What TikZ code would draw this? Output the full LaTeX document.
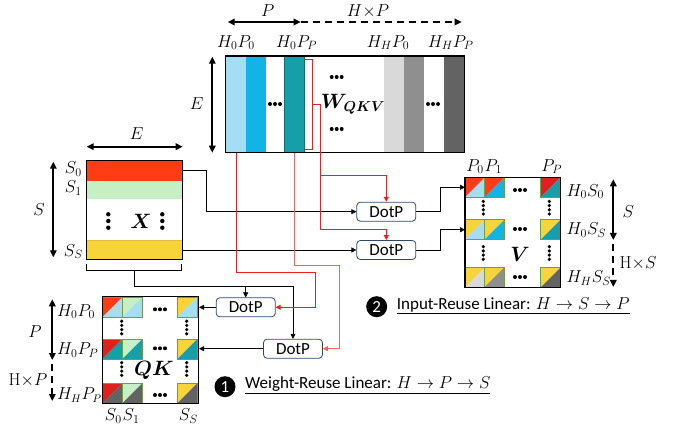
\documentclass[tikz,border=0pt]{standalone}
\usepackage[no-math]{fontspec}
\setmainfont{Carlito}
\usepackage{bm}
\usetikzlibrary{arrows.meta}
\definecolor{lblue}{HTML}{A5DDF2}
\definecolor{cblue}{HTML}{12B4E6}
\definecolor{cteal}{HTML}{169FA8}
\definecolor{lgray}{HTML}{D9D9D9}
\definecolor{mgray}{HTML}{8F8F8F}
\definecolor{dgray}{HTML}{636363}
\definecolor{redA}{HTML}{FF3C14}
\definecolor{redB}{HTML}{E0201C}
\definecolor{lgreen}{HTML}{C6EFC5}
\definecolor{cyellow}{HTML}{F7D53A}
\definecolor{dpborder}{HTML}{2E4A6B}
\definecolor{cellb}{HTML}{6E9E4A}
\definecolor{lred}{HTML}{E82020}
\definecolor{pred}{HTML}{F06464}
\newcommand\mycell[4]{%
  \fill[#3] (#1,#2) -- ++(20,0) -- ++(-20,20) -- cycle;
  \fill[#4] (#1+20,#2) -- ++(0,20) -- ++(-20,0) -- cycle;
  \draw[cellline] (#1,#2) rectangle ++(20,20);}
\begin{document}
\begin{tikzpicture}[x=1pt,y=-1pt,
  font=\fontsize{17}{20}\selectfont,
  lab/.style={inner sep=0pt},
  dotp/.style={draw=dpborder, rounded corners=3.5pt, fill=white, minimum width=59pt, minimum height=19pt, inner sep=0pt, line width=0.8pt},
  conn/.style={line width=0.7pt, -{Triangle[length=5pt,width=5pt]}},
  rconn/.style={conn, draw=lred},
  dimarr/.style={line width=1.8pt, {Triangle[length=7pt,width=6.5pt]}-{Triangle[length=7pt,width=6.5pt]}},
  dasharr/.style={line width=1.8pt, dash pattern=on 7pt off 5pt, -{Triangle[length=7pt,width=6.5pt]}},
  cellline/.style={draw=cellb, line width=0.7pt},
  boxline/.style={draw=black, line width=1.3pt},
  hd/.pic={\fill (-5,0) circle (2pt) (0,0) circle (2pt) (5,0) circle (2pt);},
  vdf/.pic={\fill (0,-6.3) circle (1.8pt) (0,-2.1) circle (1.8pt) (0,2.1) circle (1.8pt) (0,6.3) circle (1.8pt);},
  vdt/.pic={\fill (0,-6.7) circle (2.2pt) (0,0) circle (2.2pt) (0,6.7) circle (2.2pt);}
]
\useasboundingbox (0,0) rectangle (673,433);

% ---------------- W_QKV ----------------
\fill[lblue] (225.7,56) rectangle (245.7,152.7);
\fill[cblue] (245.7,56) rectangle (265.7,152.7);
\fill[cteal] (284.3,56) rectangle (304,152.7);
\draw[cteal!70!black, line width=0.8pt] (284.3,56) rectangle (304,152.7);
\fill[lgray] (384.3,56) rectangle (404,152.7);
\fill[mgray] (404,56) rectangle (424,152.7);
\fill[dgray] (444.3,56) rectangle (464.3,152.7);
\node[boxline, minimum width=238.6pt, minimum height=96.7pt, inner sep=0pt] (W) at (345,104.35) {};
\pic at (275,104) {hd};
\pic at (336.7,77) {hd};
\pic at (336.7,129) {hd};
\pic at (433,104) {hd};
\node[lab, font=\fontsize{21}{24}\selectfont] (Wl) at (353,104) {$\bm{W_{QKV}}$};
\draw[lred, line width=1pt] (305,59.3) -- (312.7,59.3) -- (312.7,150) -- (305,150);
\coordinate (brk) at (312.7,104.3);

\node[lab] (wh1) at (236,42.7) {$H_0P_0$};
\node[lab] (wh2) at (296.7,42.7) {$H_0P_P$};
\node[lab] (wh3) at (388,42.7) {$H_HP_0$};
\node[lab] (wh4) at (450.7,42.7) {$H_HP_P$};
\coordinate (pa1) at (227.7,22);
\coordinate (pa2) at (300.7,22);
\coordinate (pa3) at (461.7,22);
\draw[dimarr] (pa1) -- (pa2);
\draw[dasharr] (pa2) -- (pa3);
\node[lab] (tP) at (267.7,11) {$P$};
\node[lab] (tHP) at (368,11) {$H{\times}P$};
\coordinate (ea1) at (212.3,56.7);
\coordinate (ea2) at (212.3,152.7);
\draw[dimarr] (ea1) -- (ea2);
\node[lab] (tE) at (196.7,104) {$E$};

% ---------------- X ----------------
\fill[redA] (86.7,160.7) rectangle (182.7,180.7);
\fill[lgreen] (86.7,180.7) rectangle (182.7,199.3);
\fill[cyellow] (86.7,240.7) rectangle (182.7,259.3);
\draw[cyellow!70!brown, line width=0.7pt] (86.7,240.7) -- (182.7,240.7);
\node[boxline, minimum width=96pt, minimum height=98.6pt, inner sep=0pt] (X) at (134.7,210) {};
\node[lab, font=\fontsize{21}{24}\selectfont] (Xl) at (141,221.7) {$\bm{X}$};
\pic at (108.3,221) {vdt};
\pic at (162.3,221) {vdt};
\coordinate (xe1) at (86.7,146.7);
\coordinate (xe2) at (182.7,146.7);
\draw[dimarr] (xe1) -- (xe2);
\node[lab] (tE2) at (136.7,134) {$E$};
\coordinate (xs1) at (53.3,161.7);
\coordinate (xs2) at (53.3,257.3);
\draw[dimarr] (xs1) -- (xs2);
\node[lab] (tS) at (39,210) {$S$};
\node[lab] (s0) at (73.3,169.3) {$S_0$};
\node[lab] (s1) at (73.3,188.3) {$S_1$};
\node[lab] (sS) at (73.3,251.7) {$S_S$};
\draw[line width=0.8pt] (86.7,264.3) -- (86.7,270.7) -- (181.7,270.7) -- (181.7,264.3);
\coordinate (xb) at (134.3,270.7);
\coordinate (xr1) at (182.7,170.7);
\coordinate (xr2) at (182.7,250);

% ---------------- DotP ----------------
\node[dotp] (dA) at (386.3,211.7) {DotP};
\node[dotp] (dB) at (386.3,250) {DotP};
\node[dotp] (dC) at (245.7,307.3) {DotP};
\node[dotp] (dD) at (293,348.7) {DotP};

% black connectors
\draw[conn] (xr1) -- (206.7,170.7) |- (dA.west);
\draw[conn] (xr2) -- (dB.west);
\draw[line width=0.7pt] (xb) |- (293,286);
\draw[conn] (293,286) -- (dD.north);
\draw[conn] (dC.north |- xb) ++(0,15.3) -- (dC.north);

% red connectors
\draw[rconn] (236.7,152.7) |- (315.7,272.3) |- (dC.east);
\draw[conn, draw=pred] (294.3,152.7) |- (339,265) |- (dD.east);
\draw[rconn] (brk) -| (320,175.7) -| (dA.north);
\draw[rconn] (320,175.7) -- (320,229) -| (dB.north);

% ---------------- V ----------------
\mycell{465}{177.3}{redA}{lblue}
\mycell{484.3}{177.3}{redA}{cblue}
\mycell{540.7}{177.3}{redB}{cteal}
\mycell{465}{219.7}{cyellow}{lblue}
\mycell{484.3}{219.7}{cyellow}{cblue}
\mycell{540.7}{219.7}{cyellow}{cteal}
\mycell{465}{267.3}{cyellow}{lgray}
\mycell{484.3}{267.3}{cyellow}{mgray}
\mycell{540.7}{267.3}{cyellow}{dgray}
\node[boxline, minimum width=95.7pt, minimum height=110pt, inner sep=0pt] (V) at (512.85,232.3) {};
\pic at (520,190) {hd};
\pic at (520,229) {hd};
\pic at (520,277) {hd};
\pic at (483.3,207.7) {vdf};
\pic at (549.3,207.7) {vdf};
\pic at (483.3,253) {vdf};
\pic at (549.3,253) {vdf};
\node[lab, font=\fontsize{21}{24}\selectfont] (Vl) at (520,254) {$\bm{V}$};
\node[lab] (vp0) at (475,166.7) {$P_0$};
\node[lab] (vp1) at (493.3,166.7) {$P_1$};
\node[lab] (vpp) at (551.7,166.7) {$P_P$};
\node[lab, anchor=west] (vh1) at (566.5,191.7) {$H_0S_0$};
\node[lab, anchor=west] (vh2) at (566.5,230) {$H_0S_S$};
\node[lab, anchor=west] (vh3) at (566.5,278.3) {$H_HS_S$};
\coordinate (vs1) at (613.3,179.3);
\coordinate (vs2) at (613.3,240);
\coordinate (vs3) at (613.3,244);
\coordinate (vs4) at (613.3,287);
\draw[dimarr] (vs1) -- (vs2);
\draw[dasharr] (vs3) -- (vs4);
\node[lab] (tS2) at (628.3,211.7) {$S$};
\node[lab] (tHS) at (638,263.3) {$\mathrm{H}{\times}S$};

\draw[conn] (dA.east) -- (440,211.7) |- (465,187.3);
\draw[conn] (dB.east) -- (440,250) |- (465,229.7);

% ---------------- QK ----------------
\mycell{102.3}{297.3}{redA}{lblue}
\mycell{122.3}{297.3}{lgreen}{lblue}
\mycell{177.3}{297.3}{cyellow}{lblue}
\mycell{102.3}{339}{redB}{cteal}
\mycell{122.3}{339}{lgreen}{cteal}
\mycell{177.3}{339}{cyellow}{cteal}
\mycell{102.3}{383.3}{redB}{dgray}
\mycell{122.3}{383.3}{lgreen}{dgray}
\mycell{177.3}{383.3}{cyellow}{dgray}
\node[draw=black, line width=1.6pt, minimum width=96pt, minimum height=106.6pt, inner sep=0pt] (QK) at (150.3,350) {};
\pic at (160,309.3) {hd};
\pic at (160,348.3) {hd};
\pic at (160,395) {hd};
\pic at (121.7,327.5) {vdf};
\pic at (186.7,327.5) {vdf};
\pic at (121.7,369) {vdf};
\pic at (186.7,369) {vdf};
\node[lab, font=\fontsize{21}{24}\selectfont] (QKl) at (154,370) {$\bm{QK}$};
\node[lab, anchor=west] (qh1) at (57,311.7) {$H_0P_0$};
\node[lab, anchor=west] (qh2) at (57,350) {$H_0P_P$};
\node[lab, anchor=west, font=\fontsize{16}{20}\selectfont] (qh3) at (57,395) {$H_HP_P$};
\node[lab] (qs0) at (113.3,416) {$S_0$};
\node[lab] (qs1) at (131,416) {$S_1$};
\node[lab] (qss) at (188.3,416) {$S_S$};
\coordinate (qp1) at (52.3,299.3);
\coordinate (qp2) at (52.3,360);
\coordinate (qp3) at (52.3,364);
\coordinate (qp4) at (52.3,401);
\draw[dimarr] (qp1) -- (qp2);
\draw[dasharr] (qp3) -- (qp4);
\node[lab] (tP2) at (35,331.7) {$P$};
\node[lab] (tHP2) at (28,380) {$\mathrm{H}{\times}P$};

\draw[conn] (dC.west) -- (QK.east |- dC.west);
\draw[conn] (dD.west) -- (QK.east |- dD.west);

% ---------------- legends ----------------
\node[circle, fill=black, text=white, inner sep=0pt, minimum size=21pt, font=\fontsize{17}{17}\selectfont] (n2) at (376.7,306.7) {2};
\node[lab, anchor=west] (L2) at (396.7,305.5) {\underline{Input-Reuse Linear: $H\rightarrow S\rightarrow P$}};
\node[circle, fill=black, text=white, inner sep=0pt, minimum size=21pt, font=\fontsize{17}{17}\selectfont] (n1) at (225,386.7) {1};
\node[lab, anchor=west] (L1) at (245,385.5) {\underline{Weight-Reuse Linear: $H\rightarrow P\rightarrow S$}};
\end{tikzpicture}
\end{document}
